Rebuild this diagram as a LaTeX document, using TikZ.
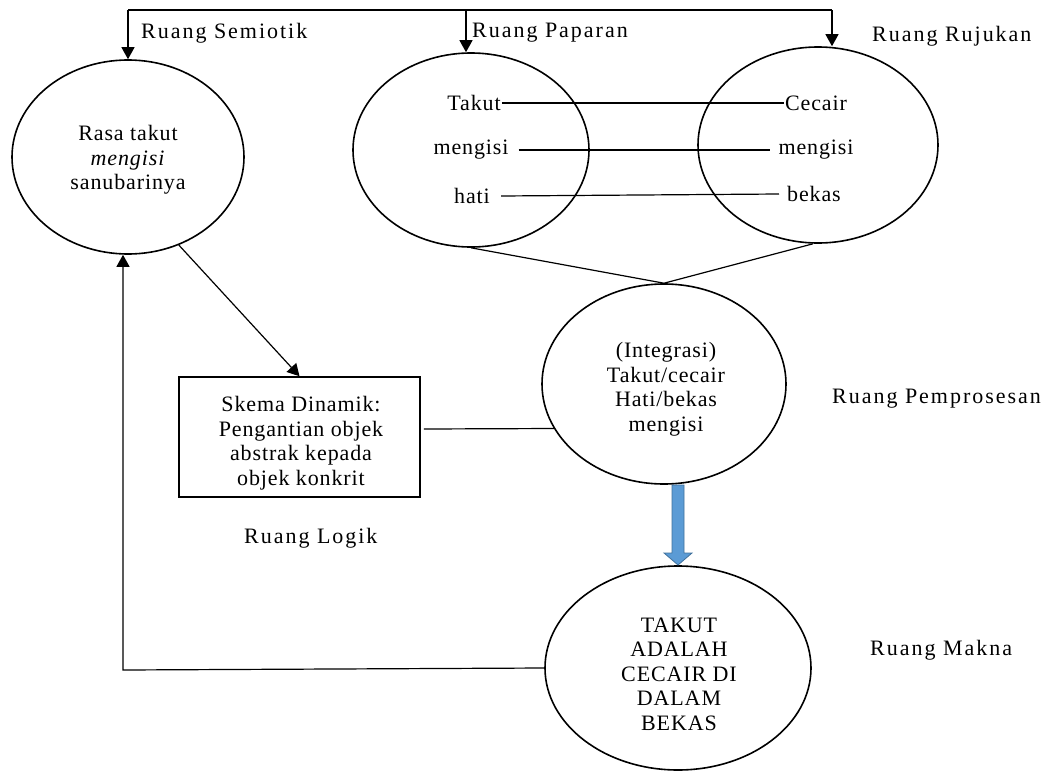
\documentclass[tikz,border=0pt]{standalone}
\usepackage{fontspec}
\setmainfont{Liberation Serif}
\usetikzlibrary{shapes.geometric,arrows.meta}
\definecolor{arrowfill}{RGB}{91,155,213}
\definecolor{arrowline}{RGB}{65,113,156}
\begin{document}
\begin{tikzpicture}[x=1pt,y=-1pt,
 every node/.style={font=\fontsize{22}{24.5}\selectfont\addfontfeature{LetterSpace=4}},
 ell/.style={draw,ellipse,line width=1.6pt,inner sep=0pt},
 txt/.style={align=center,inner sep=0pt},
 lbl/.style={anchor=west,inner sep=0pt,font=\fontsize{22}{24.5}\selectfont\addfontfeature{LetterSpace=9}},
 word/.style={inner sep=1pt},
 arr/.style={-{Triangle[length=12pt,width=13pt]}},
 conn/.style={line width=1.2pt}]
\useasboundingbox (0,0) rectangle (1045,774);

% ellipses and box
\node[ell,minimum width=232pt,minimum height=194pt] (e1) at (128,157) {};
\node[ell,minimum width=236pt,minimum height=194pt] (e2) at (471,150) {};
\node[ell,minimum width=240pt,minimum height=196pt] (e3) at (818,145) {};
\node[ell,minimum width=244pt,minimum height=200pt] (e4) at (664,384) {};
\node[ell,minimum width=266pt,minimum height=204pt] (e5) at (678,668) {};
\node[draw,line width=1.5pt,minimum width=241pt,minimum height=120pt,inner sep=0pt] (box) at (299.5,437) {};

% texts
\node[txt] (t1) at (128,160) {Rasa takut\\\textit{mengisi}\\sanubarinya};
\node[txt] (t4) at (666,389) {(Integrasi)\\Takut/cecair\\Hati/bekas\\mengisi};
\node[txt] (t5) at (679,674) {TAKUT\\ADALAH\\CECAIR DI\\DALAM\\BEKAS};
\node[txt] (tb) at (301,443) {Skema Dinamik:\\Pengantian objek\\abstrak kepada\\objek konkrit};

% words inside the two upper ellipses
\node[word] (w1) at (474,103) {Takut};
\node[word] (w2) at (471,150) {mengisi};
\node[word] (w3) at (472,196) {hati};
\node[word] (v1) at (816,103) {Cecair};
\node[word] (v2) at (816,150) {mengisi};
\node[word] (v3) at (814,194) {bekas};

% labels
\node[lbl] (ls) at (141,33) {Ruang Semiotik};
\node[lbl] (lp) at (472,33) {Ruang Paparan};
\node[lbl] (lr) at (872,36) {Ruang Rujukan};
\node[lbl] (lpr) at (832,399) {Ruang Pemprosesan};
\node[lbl] (lm) at (870,650) {Ruang Makna};
\node[lbl] (ll) at (244,538) {Ruang Logik};

% top distributor
\coordinate (tl) at (128,10);
\coordinate (tm) at (466,10);
\coordinate (tr) at (832,10);
\draw[conn] (tl) -- (tr);
\draw[conn,arr] (tl) -- (e1.north);
\draw[conn,arr] (tm) -- (tm |- e2.north);
\draw[conn,arr] (tr) -- (tr |- e3.north);

% word links
\draw[conn] (w1.east) -- (v1.west);
\draw[conn] ([xshift=9pt]w2.east) -- ([xshift=-7pt]v2.west);
\draw[conn] ([xshift=10pt]w3.east) -- ([xshift=-7pt]v3.west);

% into integration
\draw[conn] (e2.south) -- (e4.north);
\draw[conn] ([xshift=-5pt]e3.south) -- (e4.north);

% semiotic -> logic box
\draw[conn,arr] (e1.-60) -- (box.north);
\draw[conn] ([xshift=3pt,yshift=8pt]box.east) -- (e4.202);

% feedback
\coordinate (fb) at (123,670);
\draw[conn,arr] (e5.west) -- (fb) -- (fb |- e1.south);

% blue block arrow
\filldraw[fill=arrowfill,draw=arrowline,line width=0.8pt]
  (672,485) -- (684,485) -- (684,553) -- (692,553) -- (678,565) -- (664,553) -- (672,553) -- cycle;
\end{tikzpicture}
\end{document}
